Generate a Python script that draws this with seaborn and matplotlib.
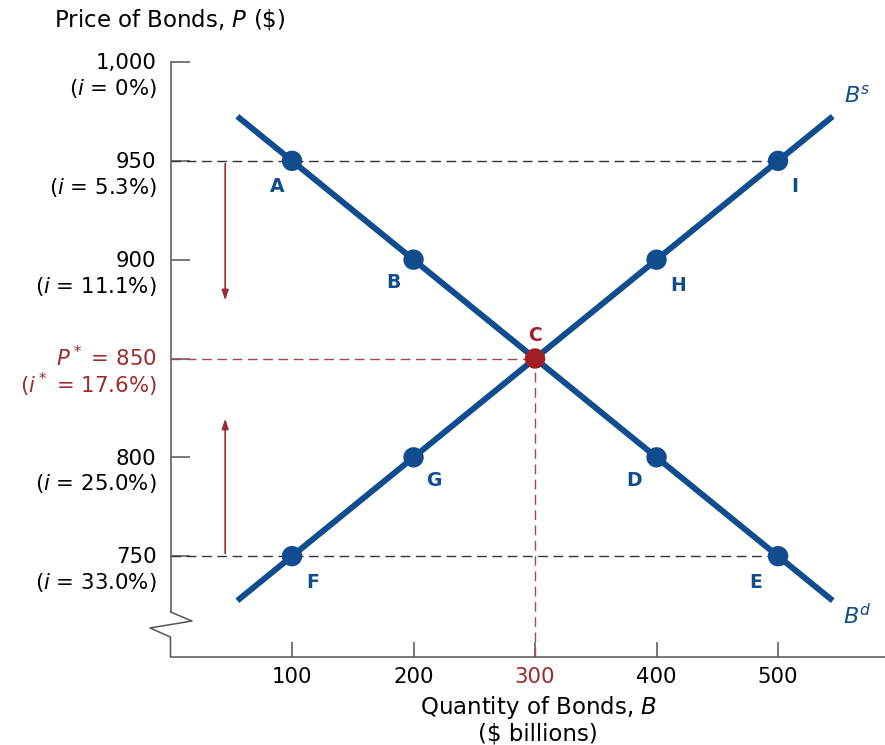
import numpy as np
import pandas as pd
import seaborn as sns
import matplotlib
matplotlib.use("Agg")
import matplotlib.pyplot as plt
import matplotlib.transforms as mtransforms

# data
quantity = [100, 200, 300, 400, 500]
price_ticks = [750, 800, 850, 900, 950, 1000]
rate_labels = ["33.0%", "25.0%", "17.6%", "11.1%", "5.3%", "0%"]
demand_pts = pd.DataFrame({"B": [100, 200, 300, 400, 500],
                           "P": [950, 900, 850, 800, 750],
                           "name": ["A", "B", "C", "D", "E"]})
supply_pts = pd.DataFrame({"B": [100, 200, 300, 400, 500],
                           "P": [750, 800, 850, 900, 950],
                           "name": ["F", "G", "C", "H", "I"]})
line_ends = [55, 545]
eq_B, eq_P = 300, 850

blue = "#104c8e"
red = "#a31d24"
dred = "#9c2b30"

sns.set_style("white")
plt.rcParams["font.family"] = ["DejaVu Sans"]
plt.rcParams["mathtext.fontset"] = "dejavusans"
plt.rcParams["text.color"] = "black"
plt.rcParams["xtick.color"] = "black"
plt.rcParams["ytick.color"] = "black"

fs = 15.3

fig = plt.figure(figsize=(8.85, 7.45), dpi=100)
ax = fig.add_axes([170.5 / 885, 88 / 745, 714.5 / 885, 595 / 745])
ax.set_xlim(0, 588)
ax.set_ylim(699, 1000)

# curves
bd = pd.DataFrame({"B": line_ends, "P": [1000 - 0.5 * b for b in line_ends]})
bs = pd.DataFrame({"B": line_ends, "P": [700 + 0.5 * b for b in line_ends]})
sns.lineplot(data=bd, x="B", y="P", color=blue, lw=4.3, ax=ax, zorder=3,
             solid_capstyle="butt")
sns.lineplot(data=bs, x="B", y="P", color=blue, lw=4.3, ax=ax, zorder=3,
             solid_capstyle="butt")

# dashed guides
dash = dict(lw=1.0, dashes=(7, 4))
ax.plot([0, 500], [950, 950], color="#333333", zorder=2, **dash)
ax.plot([0, 500], [750, 750], color="#333333", zorder=2, **dash)
ax.plot([0, eq_B], [eq_P, eq_P], color="#a8474a", zorder=2, **dash)
ax.plot([eq_B, eq_B], [699, eq_P], color="#a8474a", zorder=2, **dash)

# points
pts = pd.concat([demand_pts, supply_pts]).drop_duplicates("name")
pts["kind"] = np.where(pts["name"] == "C", "eq", "pt")
sns.scatterplot(data=pts, x="B", y="P", hue="kind",
                palette={"pt": blue, "eq": red}, s=215, linewidth=0,
                legend=False, ax=ax, zorder=4)

# point labels
offs = {"A": (-15, -26), "B": (-20, -23), "C": (0, 23), "D": (-22, -23),
        "E": (-22, -26), "F": (21, -26), "G": (20, -23), "H": (22, -26),
        "I": (17, -26)}
for _, r in pts.iterrows():
    dx, dy = offs[r["name"]]
    ax.annotate(r["name"], (r["B"], r["P"]), xytext=(dx * 0.72, dy * 0.72),
                textcoords="offset points", ha="center", va="center",
                fontsize=13.5, fontweight="bold",
                color=red if r["name"] == "C" else blue)

ax.text(565, 983, "$B^s$", color=blue, fontsize=16, ha="center", va="center")
ax.text(565, 720, "$B^d$", color=blue, fontsize=16, ha="center", va="center")

# arrows
arr = dict(arrowstyle="-|>,head_length=0.6,head_width=0.2", color=dred, lw=1.2)
ax.annotate("", xy=(45, 878), xytext=(45, 950), arrowprops=arr)
ax.annotate("", xy=(45, 821), xytext=(45, 750), arrowprops=arr)

# axes
for s in ["top", "right"]:
    ax.spines[s].set_visible(False)
ax.spines["left"].set_bounds(721.8, 1000)
for s in ["left", "bottom"]:
    ax.spines[s].set_color("#555555")
    ax.spines[s].set_linewidth(1.1)
ax.plot([0, 17.7, -16.9, 0, 0], [721.8, 717.2, 713.7, 709.1, 699],
        color="#555555", lw=1.1, clip_on=False, zorder=5)

ax.set_xticks(quantity, [str(q) for q in quantity])
ylabels = []
for p, r in zip(price_ticks, rate_labels):
    if p == 850:
        ylabels.append("$P^*$ = 850\n($i^*$ = 17.6%)")
    elif p == 1000:
        ylabels.append("1,000\n($i$ = 0%)")
    else:
        ylabels.append(f"{p}\n($i$ = {r})")
ax.set_yticks(price_ticks, ylabels)
ax.tick_params(axis="y", direction="in", length=13.5, width=1.1,
               color="#555555", labelcolor="black", pad=10, labelsize=fs,
               left=True)
ax.tick_params(axis="x", direction="in", length=11, width=1.1,
               color="#555555", labelcolor="black", pad=7, labelsize=fs,
               bottom=True)
shift = mtransforms.ScaledTranslation(0, 6.3 / 72, fig.dpi_scale_trans)
shift_eq = mtransforms.ScaledTranslation(0, 9.5 / 72, fig.dpi_scale_trans)
for lab, p in zip(ax.get_yticklabels(), price_ticks):
    lab.set_verticalalignment("top")
    lab.set_multialignment("right")
    if p == 850:
        lab.set_color(dred)
        lab.set_linespacing(1.0)
        lab.set_transform(lab.get_transform() + shift_eq)
    else:
        lab.set_linespacing(1.2)
        lab.set_transform(lab.get_transform() + shift)
for lab, q in zip(ax.get_xticklabels(), quantity):
    if q == 300:
        lab.set_color(dred)

ax.set_xlabel("")
ax.set_ylabel("")
fig.text(170 / 885, 1 - 20 / 745, "Price of Bonds, $P$ (\\$)", ha="center",
         va="center", fontsize=16.5, color="black")
fig.text(538 / 885, 1 - 720 / 745, "Quantity of Bonds, $B$\n(\\$ billions)",
         ha="center", va="center", fontsize=16.5, linespacing=1.1,
         color="black")

fig.savefig("out.png", dpi=100)
